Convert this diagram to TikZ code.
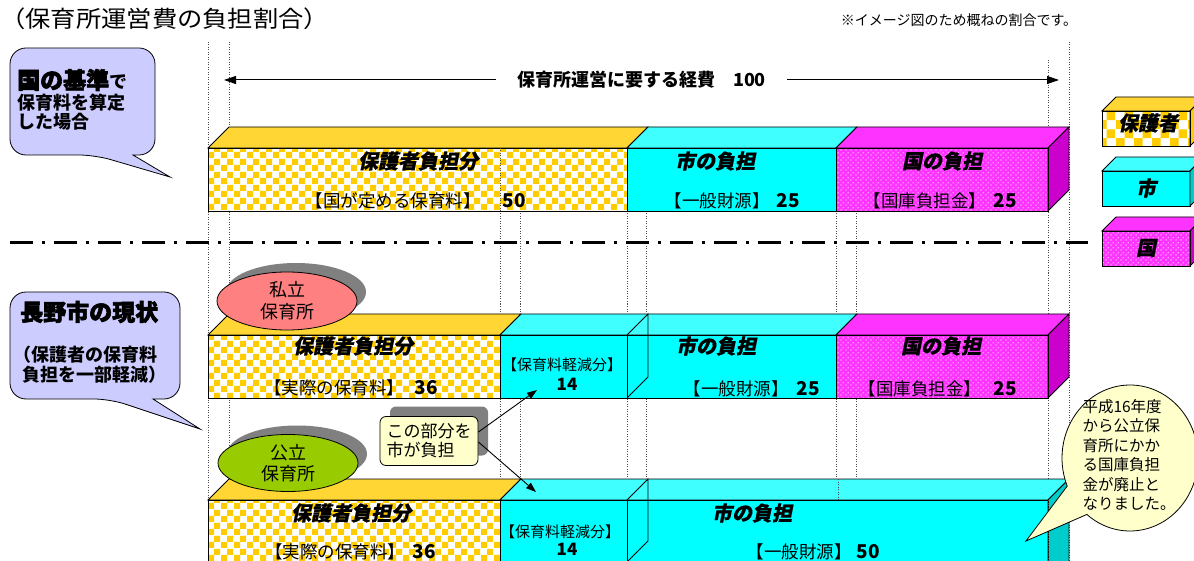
\documentclass[tikz,border=0pt]{standalone}
\usepackage{fontspec}
\setmainfont{Noto Sans CJK JP}
\newfontfamily\jpslant{Noto Sans CJK JP}[FakeSlant=0.2, BoldFeatures={FakeBold=0.6}]
\newfontfamily\jpheavy{Noto Sans CJK JP}[BoldFeatures={FakeBold=2.5}]
\usetikzlibrary{arrows.meta,patterns.meta,shapes.geometric,shapes.callouts,shadows,positioning}

\newcommand{\kfs}[1]{\fontsize{#1}{#1}\selectfont}
\newcommand{\halfpar}[1]{{\addfontfeature{RawFeature=+halt}#1}}

\definecolor{hogoyellow}{HTML}{FFCC00}
\definecolor{hogotop}{HTML}{FFD633}
\definecolor{cityfront}{HTML}{00FFFF}
\definecolor{citytop}{HTML}{40FFFF}
\definecolor{cityside}{HTML}{00CCCC}
\definecolor{kunifront}{HTML}{FF33FF}
\definecolor{kunitop}{HTML}{FF33FF}
\definecolor{kuniside}{HTML}{CC00CC}
\definecolor{kijunblue}{HTML}{CCCCFF}
\definecolor{shiritsured}{HTML}{FF8080}
\definecolor{koritsugreen}{HTML}{99CC00}
\definecolor{notecream}{HTML}{FFFFCC}
\definecolor{shadowgray}{HTML}{808080}

\tikzdeclarepattern{
  name=kcheck,
  type=uncolored,
  bottom left={(0pt,0pt)},
  top right={(13pt,13pt)},
  tile size={(13pt,13pt)},
  code={
    \fill (0pt,0pt) rectangle (6.5pt,6.5pt);
    \fill (6.5pt,6.5pt) rectangle (13pt,13pt);
  }
}
\tikzdeclarepattern{
  name=kcheckbig,
  type=uncolored,
  bottom left={(0pt,0pt)},
  top right={(18pt,18pt)},
  tile size={(18pt,18pt)},
  code={
    \fill (0pt,0pt) rectangle (9pt,9pt);
    \fill (9pt,9pt) rectangle (18pt,18pt);
  }
}
\tikzdeclarepattern{
  name=kdots,
  type=uncolored,
  bottom left={(0pt,0pt)},
  top right={(5pt,5pt)},
  tile size={(5pt,5pt)},
  code={
    \fill (1.25pt,1.25pt) circle (0.75pt);
    \fill (3.75pt,3.75pt) circle (0.75pt);
  }
}

\tikzset{
  guide/.style={line width=0.7pt, black!70, dash pattern=on 1pt off 1.5pt},
  barline/.style={draw=black, line width=0.8pt},
  callline/.style={draw=black, line width=0.8pt},
  headtext/.style={font=\kfs{20}\jpslant\bfseries, inner sep=0pt},
  kakko/.style={font=\kfs{17.5}, inner sep=0pt},
  numtext/.style={font=\kfs{19}\bfseries, inner sep=0pt},
  boldtext/.style={font=\kfs{18}\bfseries, inner sep=0pt, anchor=west},
  heavytext/.style={font=\kfs{23}\jpheavy\bfseries, inner sep=0pt, anchor=west},
  kshadow/.style={drop shadow={shadow xshift=#1, shadow yshift=#1, fill=shadowgray, opacity=1}},
  hogoface/.style={fill=white, postaction={pattern=kcheck, pattern color=hogoyellow}},
  kuniface/.style={fill=kunifront, postaction={pattern=kdots, pattern color=white}},
}

\begin{document}
\begin{tikzpicture}[x=1pt,y=-1pt]
\useasboundingbox (0,0) rectangle (1194,561);
\clip (0,0) rectangle (1194,561);
\fill[white] (0,0) rectangle (1194,561);

% guide lines
\foreach \gx in {208,229}
  \draw[guide] (\gx,42) -- (\gx,561);
\draw[guide] (1048,60) -- (1048,561);
\draw[guide] (1069,42) -- (1069,561);
\foreach \gx in {500,520,627,646,836,856}
  \draw[guide] (\gx,211) -- (\gx,561);

% titles
\node[anchor=west, inner sep=0pt, xscale=1.1, transform shape, font=\kfs{23}] (title) at (0,19)
  {（保育所運営費の負担割合\halfpar{）}};
\node[inner sep=0pt, font=\kfs{14}] (note) at (959,20) {※イメージ図のため概ねの割合です。};

% total cost arrow
\coordinate (costL) at (224,80);
\coordinate (costR) at (1059,80);
\draw[line width=1pt, {Triangle[length=12pt,width=8pt]}-{Triangle[length=12pt,width=8pt]}] (costL) -- (costR)
  node[midway, fill=white, inner xsep=21pt, inner ysep=2pt, font=\kfs{18}\bfseries] (cost) {保育所運営に要する経費　100};

% callout: national standard
\draw[callline, fill=kijunblue] (155,100) [rounded corners=16pt] -- (155,48) -- (10,48) -- (10,155) -- (95,155)
  [sharp corners] -- (170,177) -- (133,155) [rounded corners=16pt] -- (155,155) -- cycle;
\node[heavytext] (kijun) at (17,80) {国の基準};
\node[anchor=base west, inner sep=0pt, font=\kfs{18}\bfseries] (kijunDe) at (kijun.base east) {で};
\node[boldtext] (kijunB) at (17,103) {保育料を算定};
\node[boldtext] (kijunC) at (17,122) {した場合};

% top bar
\path[hogoface] (208,148) rectangle (627,211);
\fill[cityfront] (627,148) rectangle (836,211);
\path[kuniface] (836,148) rectangle (1048,211);
\filldraw[barline, fill=hogotop] (208,148) -- (229,127) -- (648,127) -- (627,148) -- cycle;
\filldraw[barline, fill=citytop] (627,148) -- (648,127) -- (857,127) -- (836,148) -- cycle;
\filldraw[barline, fill=kunitop] (836,148) -- (857,127) -- (1069,127) -- (1048,148) -- cycle;
\filldraw[barline, fill=kuniside] (1048,148) -- (1069,127) -- (1069,190) -- (1048,211) -- cycle;
\draw[barline] (208,148) rectangle (1048,211);
\draw[barline] (627,148) -- (627,211) (836,148) -- (836,211);
\draw[guide] (500,148) -- (500,211);
\node[headtext] (hogoA) at (418,161) {保護者負担分};
\node[kakko] (ryoA) at (393,201) {【国が定める保育料】};
\node[numtext] (ryoAnum) at (514,201) {50};
\node[headtext] (cityA) at (715,161) {市の負担};
\node[kakko] (zaigenA) at (717,201) {【一般財源】};
\node[numtext] (zaigenAnum) at (788,201) {25};
\node[headtext] (kuniA) at (942,161) {国の負担};
\node[kakko] (kokkoA) at (925,201) {【国庫負担金】};
\node[numtext] (kokkoAnum) at (1005,201) {25};

% separator
\draw[line width=3pt, dash pattern=on 23pt off 9pt on 3pt off 9pt] (10,243) -- (1088,243);

% legend
\path[fill=white, postaction={pattern=kcheckbig, pattern color=hogoyellow}] (1102,111) rectangle (1190,146);
\filldraw[barline, fill=hogotop] (1102,111) -- (1116,97) -- (1204,97) -- (1190,111) -- cycle;
\filldraw[barline, fill=hogoyellow] (1190,111) -- (1204,97) -- (1204,132) -- (1190,146) -- cycle;
\draw[barline] (1102,111) rectangle (1190,146);
\node[headtext] (legHogo) at (1148,123) {保護者};
\filldraw[barline, fill=cityfront] (1102,171) rectangle (1190,206);
\filldraw[barline, fill=citytop] (1102,171) -- (1116,157) -- (1204,157) -- (1190,171) -- cycle;
\filldraw[barline, fill=cityside] (1190,171) -- (1204,157) -- (1204,192) -- (1190,206) -- cycle;
\node[headtext] (legCity) at (1146,188) {市};
\path[kuniface] (1102,231) rectangle (1190,266);
\filldraw[barline, fill=kunitop] (1102,231) -- (1116,217) -- (1204,217) -- (1190,231) -- cycle;
\filldraw[barline, fill=kuniside] (1190,231) -- (1204,217) -- (1204,252) -- (1190,266) -- cycle;
\draw[barline] (1102,231) rectangle (1190,266);
\node[headtext] (legKuni) at (1146,248) {国};

% callout: Nagano city
\draw[callline, fill=kijunblue] (180,340) [rounded corners=16pt] -- (180,292) -- (10,292) -- (10,399) -- (110,399)
  [sharp corners] -- (200,429) -- (153,399) [rounded corners=16pt] -- (180,399) -- cycle;
\node[heavytext] (genjo) at (20,312) {長野市の現状};
\node[boldtext] (genjoB) at (13,355) {（保護者の保育料};
\node[boldtext] (genjoC) at (22,375) {負担を一部軽減）};

% middle bar (private)
\path[hogoface] (208,335) rectangle (500,398);
\fill[cityfront] (500,335) rectangle (836,398);
\path[kuniface] (836,335) rectangle (1048,398);
\filldraw[barline, fill=hogotop] (208,335) -- (229,314) -- (521,314) -- (500,335) -- cycle;
\filldraw[barline, fill=citytop] (500,335) -- (521,314) -- (857,314) -- (836,335) -- cycle;
\filldraw[barline, fill=kunitop] (836,335) -- (857,314) -- (1069,314) -- (1048,335) -- cycle;
\filldraw[barline, fill=kuniside] (1048,335) -- (1069,314) -- (1069,377) -- (1048,398) -- cycle;
\draw[barline] (208,335) rectangle (1048,398);
\draw[barline] (500,335) -- (500,398) (627,335) -- (627,398) (836,335) -- (836,398);
\draw[barline] (627,335) -- (648,314) -- (648,377) -- (627,398);
\node[headtext] (hogoB) at (353,346) {保護者負担分};
\node[kakko] (ryoB) at (334,388) {【実際の保育料】};
\node[numtext] (ryoBnum) at (426,388) {36};
\node[kakko, font=\kfs{15}] (keigenB) at (562,365) {【保育料軽減分】};
\node[numtext, font=\kfs{17}\bfseries] (keigenBnum) at (567,384) {14};
\node[headtext] (cityB) at (716,346) {市の負担};
\node[kakko] (zaigenB) at (736,389) {【一般財源】};
\node[numtext] (zaigenBnum) at (808,389) {25};
\node[headtext] (kuniB) at (941,346) {国の負担};
\node[kakko] (kokkoB) at (920,389) {【国庫負担金】};
\node[numtext] (kokkoBnum) at (1005,389) {25};

% bottom bar (public)
\path[hogoface] (208,500) rectangle (500,570);
\fill[cityfront] (500,500) rectangle (1048,570);
\filldraw[barline, fill=hogotop] (208,500) -- (229,479) -- (521,479) -- (500,500) -- cycle;
\filldraw[barline, fill=citytop] (500,500) -- (521,479) -- (1069,479) -- (1048,500) -- cycle;
\filldraw[barline, fill=cityside] (1048,500) -- (1069,479) -- (1069,570) -- (1048,591) -- cycle;
\draw[barline] (208,500) rectangle (1048,570);
\draw[barline] (500,500) -- (500,570) (627,500) -- (627,570);
\draw[barline] (627,500) -- (648,479) -- (648,541) -- (627,562);
\draw[guide] (838,479) -- (838,500);
\draw[guide] (1048,500) -- (1048,561);
\node[headtext] (hogoC) at (351,513) {保護者負担分};
\node[kakko] (ryoC) at (335,552) {【実際の保育料】};
\node[numtext] (ryoCnum) at (424,552) {36};
\node[kakko, font=\kfs{15}] (keigenC) at (560,532) {【保育料軽減分】};
\node[numtext, font=\kfs{17}\bfseries] (keigenCnum) at (567,549) {14};
\node[headtext] (cityC) at (752,513) {市の負担};
\node[kakko] (zaigenC) at (799,552) {【一般財源】};
\node[numtext] (zaigenCnum) at (868,552) {50};

% nursery ellipses
\node[ellipse, draw, line width=0.8pt, fill=shiritsured, minimum width=140, minimum height=58, inner sep=0pt,
  align=center, font=\fontsize{18}{22}\selectfont, kshadow=9pt] (shiritsu) at (287,301) {私立\\保育所};
\node[ellipse, draw, line width=0.8pt, fill=koritsugreen, minimum width=140, minimum height=57, inner sep=0pt,
  align=center, font=\fontsize{18}{21}\selectfont, kshadow=9pt] (koritsu) at (288,463) {公立\\保育所};

% city pays this part
\node[draw, line width=0.8pt, fill=notecream, rounded corners=6pt, minimum width=98, minimum height=49,
  align=left, font=\fontsize{17}{19}\selectfont, kshadow=10pt] (futan) at (429,441) {この部分を\\市が負担};
\coordinate (keigenUp) at (537,390);
\coordinate (keigenDown) at (536,492);
\draw[line width=0.9pt, -{Triangle[length=10pt,width=7pt]}] ([yshift=9pt]futan.east) -- (keigenUp);
\draw[line width=0.9pt, -{Triangle[length=10pt,width=7pt]}] ([yshift=-1pt]futan.east) -- (keigenDown);

% abolition callout
\node[ellipse callout, draw, line width=0.8pt, fill=notecream, minimum width=136, minimum height=146,
  callout absolute pointer={(1026,541)}, callout pointer arc=28] (haishi) at (1130,458) {};
\node[align=left, inner sep=0pt, font=\fontsize{15.5}{19.5}\selectfont] (haishiText) at (1129,455)
  {平成16年度\\から公立保\\育所にかか\\る国庫負担\\金が廃止と\\なりました。};
\end{tikzpicture}
\end{document}
